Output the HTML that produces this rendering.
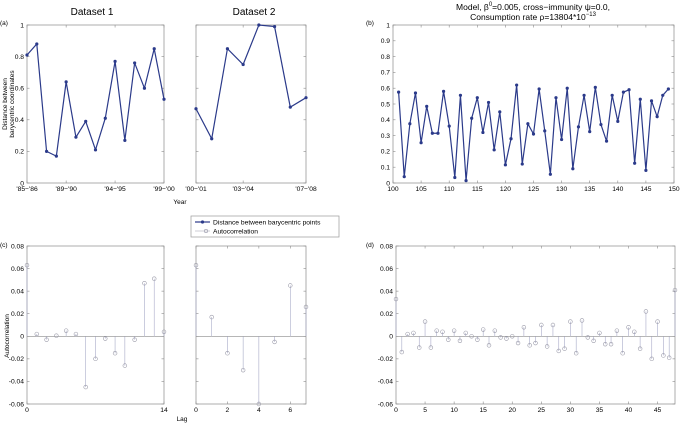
<!DOCTYPE html>
<html><head><meta charset="utf-8"><style>
html,body{margin:0;padding:0;background:#fff;}
svg{display:block;font-family:"Liberation Sans",sans-serif;}
</style></head><body>
<svg id="fig" width="680" height="423" viewBox="0 0 680 423" xmlns="http://www.w3.org/2000/svg">
<text x="92" y="15" font-size="10" text-anchor="middle">Dataset 1</text>
<text x="254" y="15" font-size="10" text-anchor="middle">Dataset 2</text>
<text x="533" y="10" font-size="8.5" text-anchor="middle">Model, β<tspan font-size="6" dy="-4">0</tspan><tspan dy="4">=0.005, cross−immunity ψ=0.0,</tspan></text>
<text x="533" y="20" font-size="8.5" text-anchor="middle">Consumption rate ρ=13804*10<tspan font-size="6" dy="-4">−13</tspan></text>
<text x="0" y="25" font-size="6.5">(a)</text>
<text x="366" y="25" font-size="6.5">(b)</text>
<text x="0" y="247" font-size="6.5">(c)</text>
<text x="366" y="247" font-size="6.5">(d)</text>
<text x="180" y="204" font-size="6.5" text-anchor="middle">Year</text>
<text x="182" y="421" font-size="6.5" text-anchor="middle">Lag</text>
<text transform="translate(7,104) rotate(-90)" font-size="6.5" text-anchor="middle">Distance between</text>
<text transform="translate(14,104) rotate(-90)" font-size="6.5" text-anchor="middle">barycentric coordinates</text>
<text transform="translate(9,336) rotate(-90)" font-size="6.5" text-anchor="middle">Autocorrelation</text>
<g>
<rect x="191" y="216" width="148" height="21" fill="#fff" stroke="#999" stroke-width="0.7"/>
<line x1="195" y1="222" x2="210" y2="222" stroke="#2b3a8a" stroke-width="1.2"/>
<circle cx="202.5" cy="222" r="1.6" fill="#2b3a8a"/>
<text x="213" y="224.5" font-size="6.7">Distance between barycentric points</text>
<line x1="195" y1="231" x2="210" y2="231" stroke="#aab" stroke-width="0.6"/>
<circle cx="206" cy="231" r="1.7" fill="none" stroke="#99a" stroke-width="0.6"/>
<text x="213" y="233.5" font-size="6.7">Autocorrelation</text>
</g>
</svg>
<script>
const ds1Values=[0.81,0.88,0.2,0.17,0.64,0.29,0.39,0.21,0.41,0.77,0.27,0.76,0.6,0.85,0.53];
const ds1Ticks=["'85−'86","'89−'90","'94−'95","'99−'00"];
const ds2Values=[0.47,0.28,0.85,0.75,1.0,0.99,0.48,0.54];
const ds2Ticks=["'00−'01","'03−'04","'07−'08"];
const modelYears=[101,102,103,104,105,106,107,108,109,110,111,112,113,114,115,116,117,118,119,120,121,122,123,124,125,126,127,128,129,130,131,132,133,134,135,136,137,138,139,140,141,142,143,144,145,146,147,148,149];
const modelValues=[0.575,0.04,0.375,0.57,0.255,0.485,0.315,0.315,0.58,0.36,0.035,0.555,0.015,0.41,0.54,0.32,0.51,0.21,0.45,0.115,0.28,0.62,0.12,0.375,0.31,0.595,0.33,0.055,0.54,0.275,0.6,0.09,0.355,0.555,0.325,0.605,0.37,0.265,0.555,0.39,0.575,0.59,0.125,0.53,0.08,0.52,0.42,0.555,0.595];
const acf1=[0.063,0.002,-0.003,0.0005,0.005,0.002,-0.045,-0.02,-0.002,-0.015,-0.026,-0.003,0.047,0.051,0.004];
const acf2=[0.063,0.017,-0.015,-0.03,-0.06,-0.005,0.045,0.026];
const acfModel=[0.033,-0.014,0.002,0.003,-0.01,0.013,-0.01,0.005,0.004,-0.003,0.005,-0.004,0.003,0,-0.003,0.006,-0.008,0.005,-0.001,-0.002,0,-0.006,0.008,-0.008,-0.006,0.01,-0.009,0.01,-0.013,-0.011,0.013,-0.015,0.014,-0.001,-0.004,0.003,-0.007,-0.007,0.005,-0.015,0.008,0.004,-0.011,0.022,-0.02,0.013,-0.017,-0.019,0.041];
const acfTickLabels=["0.08","0.06","0.04","0.02","0","-0.02","-0.04","-0.06"];

const svg=document.getElementById('fig');
const NS='http://www.w3.org/2000/svg';
function mk(tag,attrs,parent){const e=document.createElementNS(NS,tag);for(const k in attrs)e.setAttribute(k,attrs[k]);(parent||svg).appendChild(e);return e;}

function axes(name,x0,x1,y0,y1,xmin,xmax,ymin,ymax){
  const g=mk('g',{});
  
  
  mk('rect',{x:x0,y:y0,width:x1-x0,height:y1-y0,fill:'none',stroke:'#8a8a8a','stroke-width':0.7},g);
  const sx=v=>x0+(v-xmin)/(xmax-xmin)*(x1-x0);
  const sy=v=>y1-(v-ymin)/(ymax-ymin)*(y1-y0);
  return {g,sx,sy,x0,x1,y0,y1};
}
function xtick(ax,v,label){
  const x=ax.sx(v);
  mk('line',{x1:x,y1:ax.y1,x2:x,y2:ax.y1-2.5,stroke:'#8a8a8a','stroke-width':0.6},ax.g);
  mk('line',{x1:x,y1:ax.y0,x2:x,y2:ax.y0+2.5,stroke:'#8a8a8a','stroke-width':0.6},ax.g);
  if(label!==null){const t=mk('text',{x:x,y:ax.y1+8,'font-size':6.7,'text-anchor':'middle'},ax.g);t.textContent=label;
  
  }
}
function ytick(ax,v,label){
  const y=ax.sy(v);
  mk('line',{x1:ax.x0,y1:y,x2:ax.x0+2.5,y2:y,stroke:'#8a8a8a','stroke-width':0.6},ax.g);
  mk('line',{x1:ax.x1,y1:y,x2:ax.x1-2.5,y2:y,stroke:'#8a8a8a','stroke-width':0.6},ax.g);
  if(label!==null){const t=mk('text',{x:ax.x0-3,y:y+2.3,'font-size':6.7,'text-anchor':'end'},ax.g);t.textContent=label;
  
  }
}
function lineSeries(ax,xs,ys,name){
  const pts=xs.map((x,i)=>ax.sx(x)+','+ax.sy(ys[i])).join(' ');
  const pl=mk('polyline',{points:pts,fill:'none',stroke:'#2b3a8a','stroke-width':1.2},ax.g);
  
  
  xs.forEach((x,i)=>{const c=mk('circle',{cx:ax.sx(x),cy:ax.sy(ys[i]),r:1.6,fill:'#2b3a8a'},ax.g);
    
    });
}
function stems(ax,vals,name){
  mk('line',{x1:ax.x0,y1:ax.sy(0),x2:ax.x1,y2:ax.sy(0),stroke:'#8a8a8a','stroke-width':0.6},ax.g);
  vals.forEach((v,i)=>{
    const x=ax.sx(i),y=ax.sy(v);
    const l=mk('line',{x1:x,y1:ax.sy(0),x2:x,y2:y,stroke:'#a8aac8','stroke-width':0.6},ax.g);
    
    
    const c=mk('circle',{cx:x,cy:y,r:1.9,fill:'none',stroke:'#9a9aa8','stroke-width':0.6},ax.g);
    
    
  });
}
const idx=a=>a.map((_,i)=>i);

// (a) dataset 1
let a1=axes('panel-a-dataset1',27,164,25,183,0,ds1Values.length-1,0,1);
[0,4,9,14].forEach((v,i)=>xtick(a1,v,ds1Ticks[i]));
[0,0.2,0.4,0.6,0.8,1].forEach(v=>ytick(a1,v,String(v)));
lineSeries(a1,idx(ds1Values),ds1Values,'dataset1-line');
// (a) dataset 2
let a2=axes('panel-a-dataset2',196,306,25,183,0,ds2Values.length-1,0,1);
[0,3,7].forEach((v,i)=>xtick(a2,v,ds2Ticks[i]));
[0,0.2,0.4,0.6,0.8,1].forEach(v=>ytick(a2,v,null));
lineSeries(a2,idx(ds2Values),ds2Values,'dataset2-line');
// (b) model
let b=axes('panel-b-model',393,674,25,183,100,150,0,1);
for(let v=100;v<=150;v+=5)xtick(b,v,String(v));
for(let v=0;v<=10;v++)ytick(b,v/10,v===0?'0':v===10?'1':(v/10).toFixed(1));
lineSeries(b,modelYears,modelValues,'model-line');
// (c) acf dataset 1
const acfVals=[0.08,0.06,0.04,0.02,0,-0.02,-0.04,-0.06];
let c1=axes('panel-c-acf1',27,164,246,404,0,14,-0.06,0.08);
xtick(c1,0,'0');xtick(c1,14,'14');
acfVals.forEach((v,i)=>ytick(c1,v,acfTickLabels[i]));
stems(c1,acf1,'acf1');
let c2=axes('panel-c-acf2',196,306,246,404,0,7,-0.06,0.08);
[0,2,4,6].forEach(v=>xtick(c2,v,String(v)));
acfVals.forEach(v=>ytick(c2,v,null));
stems(c2,acf2,'acf2');
// (d) acf model
let d=axes('panel-d-acf-model',396,675,246,404,0,48,-0.06,0.08);
for(let v=0;v<=45;v+=5)xtick(d,v,String(v));
acfVals.forEach((v,i)=>ytick(d,v,acfTickLabels[i]));
stems(d,acfModel,'acf-model');
</script>
</body></html>
